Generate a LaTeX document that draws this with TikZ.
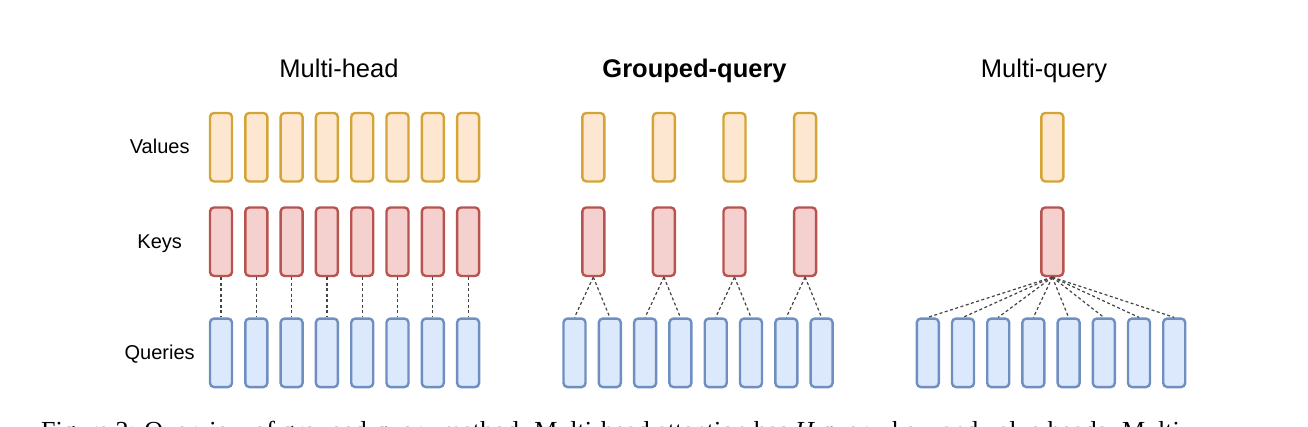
\documentclass[tikz,border=0pt]{standalone}
\usepackage{fontspec}
\setmainfont{Liberation Serif}
\setsansfont{Liberation Sans}
\definecolor{valfill}{HTML}{FDE7D0}
\definecolor{valdraw}{HTML}{D5A436}
\definecolor{keyfill}{HTML}{F4D0CE}
\definecolor{keydraw}{HTML}{B85450}
\definecolor{qfill}{HTML}{DCE8FB}
\definecolor{qdraw}{HTML}{6F8FC0}
\definecolor{linkgray}{HTML}{444444}
\begin{document}
\begin{tikzpicture}[x=1pt,y=-1pt,
  headbox/.style={rectangle, rounded corners=4pt, line width=2.4pt, minimum width=22pt, minimum height=68.5pt, inner sep=0pt},
  valbox/.style={headbox, draw=valdraw, fill=valfill},
  keybox/.style={headbox, draw=keydraw, fill=keyfill},
  qbox/.style={headbox, draw=qdraw, fill=qfill},
  link/.style={draw=linkgray, line width=1.2pt, dash pattern=on 3pt off 2.5pt},
  title/.style={font=\sffamily\fontsize{25.5}{30}\selectfont, anchor=base, inner sep=0pt},
  rowlabel/.style={font=\sffamily\fontsize{20}{24}\selectfont, anchor=base, inner sep=0pt}]
\useasboundingbox (0,0) rectangle (1308,426);
\clip (0,0) rectangle (1308,426);

% titles
\node[title] (t1) at (339,77.7) {Multi-head};
\node[title, font=\sffamily\bfseries\fontsize{25.5}{30}\selectfont] (t2) at (694.5,77.7) {Grouped-query};
\node[title] (t3) at (1044,77.7) {Multi-query};

% row labels
\node[rowlabel] (lv) at (159.7,153.3) {Values};
\node[rowlabel] (lk) at (159.7,248.3) {Keys};
\node[rowlabel] (lq) at (159.7,359.3) {Queries};

% multi-head
\foreach \i in {1,...,8} {
  \pgfmathsetmacro\xx{221+35.3*(\i-1)}
  \node[valbox] (mhv\i) at (\xx,147.2) {};
  \node[keybox] (mhk\i) at (\xx,241.7) {};
  \node[qbox] (mhq\i) at (\xx,352.8) {};
}
\foreach \i in {1,...,8} \draw[link] (mhk\i.south) -- (mhq\i.north);

% grouped-query
\foreach \j in {1,...,4} {
  \pgfmathsetmacro\xx{593.3+70.6*(\j-1)}
  \node[valbox] (gqv\j) at (\xx,147.2) {};
  \node[keybox] (gqk\j) at (\xx,241.7) {};
}
\foreach \i in {1,...,8} {
  \pgfmathsetmacro\xx{574.5+35.3*(\i-1)}
  \node[qbox] (gqq\i) at (\xx,352.8) {};
}
\foreach \i in {1,...,8} {
  \pgfmathtruncatemacro\g{(\i+1)/2}
  \draw[link] (gqk\g.south) -- (gqq\i.north);
}

% multi-query
\node[valbox] (mqv) at (1052.3,147.2) {};
\node[keybox] (mqk) at (1052.3,241.7) {};
\foreach \i in {1,...,8} {
  \pgfmathsetmacro\xx{927.8+35.2*(\i-1)}
  \node[qbox] (mqq\i) at (\xx,352.8) {};
}
\foreach \i in {1,...,8} \draw[link] (mqk.south) -- (mqq\i.north);

% caption (cut off by the frame)
\node[anchor=base west, inner sep=0pt, font=\rmfamily\fontsize{26}{30}\selectfont] (caption) at (41,439) {Figure 2: Overview of grouped-query method. Multi-head attention has \textit{H} query, key, and value heads. Multi-};
\end{tikzpicture}
\end{document}
